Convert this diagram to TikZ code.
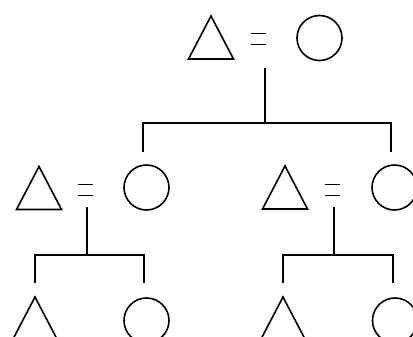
\documentclass[tikz,border=0pt]{standalone}
\begin{document}
\begin{tikzpicture}[x=1pt,y=-1pt,line width=1.6pt,
 fem/.style={circle,draw,minimum size=45pt,inner sep=0pt,line width=1.6pt},
 male/.pic={\draw[line join=miter,line width=1.6pt] (-22.5,21.5)--(0,-21.5)--(22.5,21.5)--cycle;},
 eqsign/.pic={\draw[line width=1.5pt] (-7.5,-5.5)--(7.5,-5.5) (-7.5,5.5)--(7.5,5.5);},
 kin/.style={line width=1.6pt}]
\useasboundingbox (0,0) rectangle (413,337);
\clip (0,0) rectangle (413,337);
% top couple
\pic (m0) at (211,37.5) {male};
\pic (e0) at (258,39) {eqsign};
\node[fem] (f0) at (319.5,38) {};
% middle left couple
\pic (m1) at (39,188) {male};
\pic (e1) at (85.5,190) {eqsign};
\node[fem] (f1) at (146.5,187.5) {};
% middle right couple
\pic (m2) at (285,187.5) {male};
\pic (e2) at (332.5,190) {eqsign};
\node[fem] (f2) at (394.5,187.5) {};
% bottom children
\pic (m3) at (35,318.5) {male};
\node[fem] (f3) at (146.5,320.5) {};
\pic (m4) at (283,318.5) {male};
\node[fem] (f4) at (395,320.5) {};
% descent lines
\coordinate (d0) at (265,68); \coordinate (b0) at (265,123);
\coordinate (l0) at (143,152); \coordinate (r0) at (391,152);
\draw[kin] (d0)--(b0) (l0)|-(b0)-|(r0);
\coordinate (d1) at (87,207); \coordinate (b1) at (87,255);
\coordinate (l1) at (35,283); \coordinate (r1) at (144,283);
\draw[kin] (d1)--(b1) (l1)|-(b1)-|(r1);
\coordinate (d2) at (334,207); \coordinate (b2) at (334,255);
\coordinate (l2) at (283,283); \coordinate (r2) at (393,283);
\draw[kin] (d2)--(b2) (l2)|-(b2)-|(r2);
\end{tikzpicture}
\end{document}
